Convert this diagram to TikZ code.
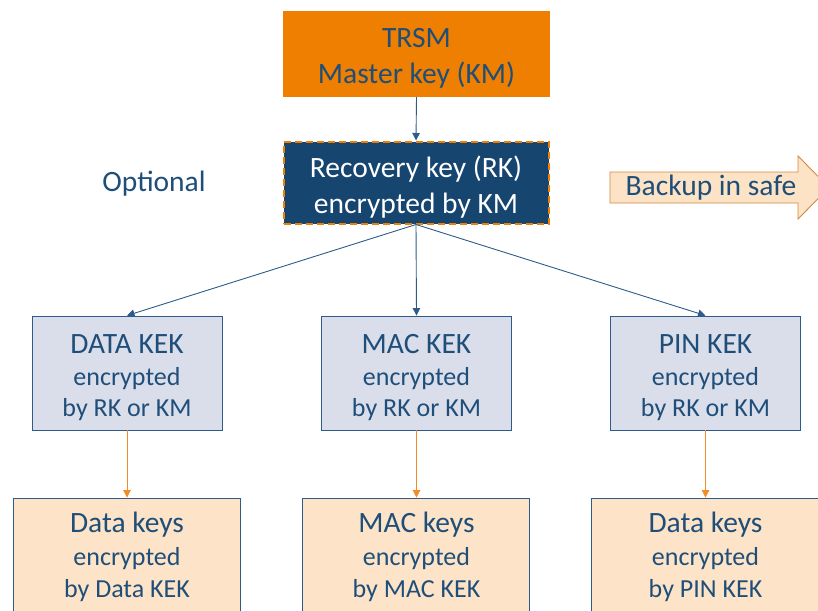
\documentclass[tikz,border=0pt]{standalone}
\usepackage{fontspec}
\setmainfont{Carlito}
\usetikzlibrary{arrows.meta}
\definecolor{torange}{HTML}{EE7F00}
\definecolor{tblue}{HTML}{1F4E79}
\definecolor{rkfill}{HTML}{164570}
\definecolor{kekfill}{HTML}{DADEEB}
\definecolor{kekline}{HTML}{2E5C8A}
\definecolor{keyfill}{HTML}{FDE4C8}
\definecolor{arrorange}{HTML}{F28C28}
\definecolor{backfill}{HTML}{FDE3C6}
\definecolor{backline}{HTML}{D08A40}
\newcommand{\bigtxt}{\fontsize{29.5}{36}\selectfont}
\newcommand{\kektxt}{\fontsize{26}{31.5}\selectfont}
\newcommand{\keytxt}{\fontsize{26}{32.5}\selectfont}
\newcommand{\lowered}[2]{\raisebox{0pt}[\dimexpr\height+#1\relax]{#2}}
\begin{document}
\begin{tikzpicture}[x=1pt,y=-1pt,
  box/.style={rectangle, inner sep=0pt, align=center, text=tblue},
  topbox/.style={box, fill=torange, minimum width=267pt, minimum height=86pt, font=\bigtxt},
  rkbox/.style={box, fill=rkfill, draw=torange, line width=2pt, dash pattern=on 7pt off 4pt, text=white, minimum width=265pt, minimum height=82pt, font=\bigtxt},
  kekbox/.style={box, fill=kekfill, draw=kekline, line width=0.9pt, minimum width=190pt, minimum height=114pt, font=\kektxt},
  keybox/.style={box, fill=keyfill, draw=kekline, line width=0.9pt, minimum width=227pt, minimum height=118pt},
  keytext/.style={box, font=\keytxt},
  bluearrow/.style={draw=kekline, line width=0.9pt, -{Triangle[length=7.5pt,width=7.5pt]}},
  orangearrow/.style={draw=arrorange, line width=0.9pt, -{Triangle[length=7.5pt,width=7.5pt]}},
  plain/.style={inner sep=0pt, text=tblue, font=\bigtxt}
]
\useasboundingbox (0,0) rectangle (818,610);
\fill[white] (0,0) rectangle (818,610);

\node[topbox] (trsm) at (416.5,54) {\lowered{8pt}{TRSM}\\Master key (KM)};
\node[rkbox] (rk) at (416,182.5) {\lowered{10pt}{Recovery key (RK)}\\encrypted by KM};
\node[plain] (opt) at (154,184) {Optional};

\draw[fill=backfill, draw=backline, line width=0.9pt]
  (610,172) -- (798,172) -- (798,156) -- (829,187.5) -- (798,219) -- (798,203) -- (610,203) -- cycle;
\node[plain] (backup) at (711,188) {Backup in safe};

\node[kekbox] (kd) at (127,373) {\lowered{10pt}{\bigtxt DATA KEK}\\encrypted\\by RK or KM};
\node[kekbox] (km) at (416.5,373) {\lowered{10pt}{\bigtxt MAC KEK}\\encrypted\\by RK or KM};
\node[kekbox] (kp) at (705.5,373) {\lowered{10pt}{\bigtxt PIN KEK}\\encrypted\\by RK or KM};

\node[keybox] (dd) at (126.5,557) {};
\node[keybox] (dm) at (416,557) {};
\node[keybox] (dp) at (705,557) {};
\node[keytext] (tdd) at (127,557) {{\bigtxt Data keys}\\encrypted\\by Data KEK};
\node[keytext] (tdm) at (416.5,557) {{\bigtxt MAC keys}\\encrypted\\by MAC KEK};
\node[keytext] (tdp) at (705.5,557) {{\bigtxt Data keys}\\encrypted\\by PIN KEK};

\draw[bluearrow] (trsm.south) -- (rk.north);
\draw[bluearrow] (rk.south) -- (kd.north);
\draw[bluearrow] (rk.south) -- (km.north);
\draw[bluearrow] (rk.south) -- (kp.north);
\draw[orangearrow] (kd.south) -- (dd.north -| kd.south);
\draw[orangearrow] (km.south) -- (dm.north -| km.south);
\draw[orangearrow] (kp.south) -- (dp.north -| kp.south);
\end{tikzpicture}
\end{document}
